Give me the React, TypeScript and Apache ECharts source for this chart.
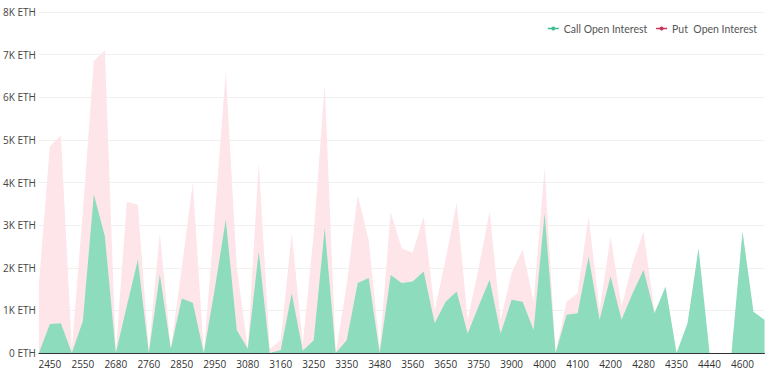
import React, { useEffect, useRef } from "react";
import * as echarts from "echarts";

const strikes: string[] = [
  "2400", "2450", "2500", "2520", "2550", "2600", "2650", "2680", "2700", "2720",
  "2760", "2780", "2800", "2850", "2880", "2900", "2950", "3000", "3050", "3080",
  "3100", "3120", "3160", "3180", "3200", "3250", "3280", "3300", "3350", "3400",
  "3450", "3480", "3500", "3520", "3560", "3580", "3600", "3650", "3680", "3700",
  "3750", "3800", "3850", "3900", "3950", "3980", "4000", "4020", "4050", "4100",
  "4120", "4150", "4200", "4220", "4250", "4280", "4300", "4320", "4350", "4400",
  "4420", "4440", "4500", "4550", "4600", "4650", "4700",
];

const callOI: number[] = [
  0, 680, 700, 0, 750, 3720, 2740, 0, 1100, 2190,
  0, 1840, 100, 1280, 1180, 0, 1500, 3130, 540, 100,
  2380, 0, 70, 1400, 50, 300, 2930, 0, 300, 1640,
  1760, 0, 1830, 1640, 1680, 1910, 700, 1200, 1440, 460,
  1100, 1720, 460, 1250, 1200, 540, 3280, 0, 900, 930,
  2260, 780, 1800, 780, 1400, 1950, 930, 1560, 0, 700,
  2460, 0, 0, 0, 2850, 970, 780,
];

const putOI: number[] = [
  1600, 4850, 5100, 100, 3300, 6850, 7100, 0, 3550, 3480,
  50, 2820, 100, 2000, 4000, 0, 3200, 6600, 2000, 100,
  4460, 100, 300, 2810, 200, 2800, 6300, 0, 1600, 3700,
  2650, 100, 3300, 2460, 2350, 3200, 1000, 2200, 3520, 770,
  2000, 3320, 770, 1880, 2420, 1200, 4340, 0, 1200, 1400,
  3200, 1000, 2730, 1090, 2100, 2850, 950, 1500, 0, 600,
  2400, 0, 0, 0, 2800, 900, 700,
];

const yTicks = { min: 0, max: 8000, interval: 1000 };

const CALL_COLOR = "#3fbf8f";
const PUT_COLOR = "#c7375a";

export default function App() {
  const ref = useRef<HTMLDivElement>(null);
  useEffect(() => {
    if (!ref.current) return;
    const chart = echarts.init(ref.current, undefined, { renderer: "svg" });
    chart.setOption({
      animation: false,
      backgroundColor: "#ffffff",
      textStyle: { fontFamily: "Open Sans, Noto Sans, sans-serif" },
      legend: {
        top: 18,
        right: 18,
        itemWidth: 11,
        itemHeight: 5,
        itemGap: 8,
        textStyle: { fontSize: 10.5, color: "#555", fontFamily: "Lato, Open Sans, sans-serif" },
        data: [
          {
            name: "Call Open Interest",
            itemStyle: { color: CALL_COLOR },
            lineStyle: { color: CALL_COLOR, width: 1.5, opacity: 1 },
          },
          {
            name: "Put  Open Interest",
            itemStyle: { color: PUT_COLOR },
            lineStyle: { color: PUT_COLOR, width: 1.5, opacity: 1 },
          },
        ],
      },
      grid: { left: 38.5, right: 15.5, top: 12, bottom: 26 },
      xAxis: {
        type: "category",
        boundaryGap: false,
        data: strikes,
        axisLine: { lineStyle: { color: "#333", width: 1 } },
        axisTick: { show: false },
        axisLabel: {
          interval: (i: number) => i % 3 === 1,
          color: "#333",
          fontSize: 10,
          margin: 6,
        },
        splitLine: { show: false },
      },
      yAxis: {
        type: "value",
        min: yTicks.min,
        max: yTicks.max,
        interval: yTicks.interval,
        axisLine: { show: false },
        axisTick: { show: false },
        axisLabel: {
          color: "#444",
          fontSize: 10,
          margin: 3,
          formatter: (v: number) => (v === 0 ? "0 ETH" : v / 1000 + "K ETH"),
        },
        splitLine: { lineStyle: { color: "#f0f0f0", width: 1 } },
      },
      series: [
        {
          name: "Put  Open Interest",
          type: "line",
          data: putOI,
          showSymbol: false,
          symbol: "circle",
          symbolSize: 5,
          itemStyle: { color: PUT_COLOR },
          lineStyle: { width: 0, opacity: 0 },
          areaStyle: { color: "#fde5e9", opacity: 1 },
          z: 1,
        },
        {
          name: "Call Open Interest",
          type: "line",
          data: callOI,
          showSymbol: false,
          symbol: "circle",
          symbolSize: 5,
          itemStyle: { color: CALL_COLOR },
          lineStyle: { width: 0, opacity: 0 },
          areaStyle: { color: "#8edcbe", opacity: 1 },
          z: 2,
        },
      ],
    });
    return () => chart.dispose();
  }, []);
  return <div ref={ref} style={{ width: 780, height: 379, position: "absolute", left: 0, top: 0 }} />;
}
